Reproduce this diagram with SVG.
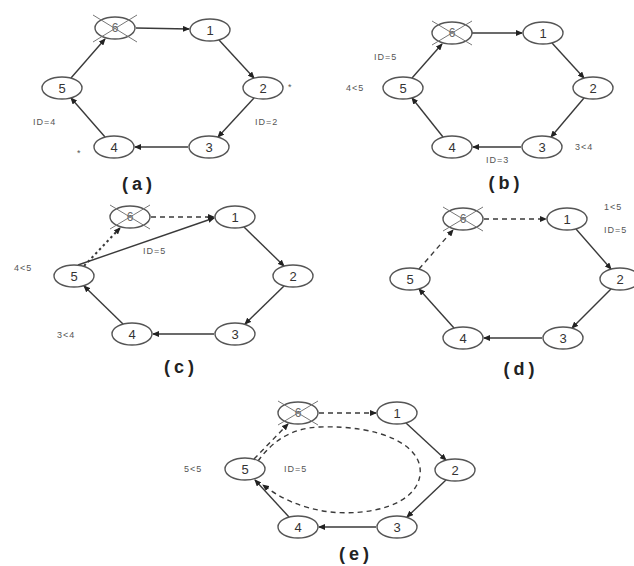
<svg xmlns="http://www.w3.org/2000/svg" width="634" height="566" viewBox="0 0 634 566">
<style>
.n ellipse{fill:#fff;stroke:#555;stroke-width:1.4}
.n text{font-family:"Liberation Sans",Arial,sans-serif;font-size:13px;fill:#333;text-anchor:middle}
.x text{fill:#666;font-size:12px}
.x line{stroke:#777;stroke-width:1}
.e{stroke:#3a3a3a;stroke-width:1.4;fill:none;marker-end:url(#ah)}
.d{stroke-dasharray:5,4}
.o{stroke-dasharray:2.5,3;stroke-width:2}
.l{font-family:"Liberation Sans",Arial,sans-serif;font-size:9px;fill:#555;letter-spacing:1px}
.c{font-family:"Liberation Sans",Arial,sans-serif;font-size:18px;font-weight:bold;fill:#222;text-anchor:middle;letter-spacing:4px}
</style>
<defs>
<marker id="ah" markerWidth="7" markerHeight="6" refX="6" refY="3" orient="auto" markerUnits="userSpaceOnUse">
<path d="M0,0 L7,3 L0,6 z" fill="#222"/>
</marker>
</defs>
<rect width="634" height="566" fill="#fff"/>

<!-- Panel a -->
<g id="connectors-a">
<line class="e" x1="136" y1="28" x2="189" y2="29"/>
<line class="e" x1="219" y1="40" x2="254" y2="78"/>
<line class="e" x1="254" y1="98" x2="218" y2="137"/>
<line class="e" x1="188" y1="147" x2="135" y2="147"/>
<line class="e" x1="105" y1="137" x2="71" y2="98"/>
<line class="e" x1="71" y1="78" x2="105" y2="39"/>
</g>
<g id="a-n6" class="n x"><ellipse cx="115" cy="28" rx="20" ry="11"/><text x="115" y="32">6</text><line x1="93" y1="15" x2="137" y2="42"/><line x1="93" y1="42" x2="137" y2="15"/></g>
<g id="a-n1" class="n"><ellipse cx="210" cy="30" rx="20" ry="11"/><text x="210" y="35">1</text></g>
<g id="a-n2" class="n"><ellipse cx="263" cy="88" rx="20" ry="11"/><text x="263" y="93">2</text></g>
<g id="a-n3" class="n"><ellipse cx="209" cy="147" rx="20" ry="11"/><text x="209" y="152">3</text></g>
<g id="a-n4" class="n"><ellipse cx="114" cy="147" rx="20" ry="11"/><text x="114" y="152">4</text></g>
<g id="a-n5" class="n"><ellipse cx="62" cy="88" rx="20" ry="11"/><text x="62" y="93">5</text></g>
<text class="l" x="288" y="90">*</text>
<text class="l" x="255" y="125">ID=2</text>
<text class="l" x="33" y="125">ID=4</text>
<text class="l" x="77" y="156">*</text>
<text class="c" x="139" y="190">(a)</text>

<!-- Panel b -->
<g id="connectors-b">
<line class="e" x1="472" y1="33" x2="522" y2="33"/>
<line class="e" x1="552" y1="43" x2="584" y2="78"/>
<line class="e" x1="584" y1="98" x2="551" y2="137"/>
<line class="e" x1="521" y1="147" x2="473" y2="147"/>
<line class="e" x1="443" y1="137" x2="412" y2="98"/>
<line class="e" x1="412" y1="78" x2="442" y2="44"/>
</g>
<g id="b-n6" class="n x"><ellipse cx="452" cy="33" rx="20" ry="11"/><text x="452" y="37">6</text><line x1="432" y1="21" x2="472" y2="45"/><line x1="432" y1="45" x2="472" y2="21"/></g>
<g id="b-n1" class="n"><ellipse cx="543" cy="33" rx="20" ry="11"/><text x="543" y="38">1</text></g>
<g id="b-n2" class="n"><ellipse cx="593" cy="88" rx="20" ry="11"/><text x="593" y="93">2</text></g>
<g id="b-n3" class="n"><ellipse cx="542" cy="147" rx="20" ry="11"/><text x="542" y="152">3</text></g>
<g id="b-n4" class="n"><ellipse cx="452" cy="147" rx="20" ry="11"/><text x="452" y="152">4</text></g>
<g id="b-n5" class="n"><ellipse cx="403" cy="88" rx="20" ry="11"/><text x="403" y="93">5</text></g>
<text class="l" x="374" y="60">ID=5</text>
<text class="l" x="346" y="91">4&lt;5</text>
<text class="l" x="575" y="150">3&lt;4</text>
<text class="l" x="486" y="163">ID=3</text>
<text class="c" x="506" y="189">(b)</text>

<!-- Panel c -->
<g id="connectors-c">
<line class="e d" x1="151" y1="217" x2="214" y2="217"/>
<line class="e" x1="78" y1="265" x2="214" y2="218"/>
<line class="e" x1="244" y1="227" x2="284" y2="266"/>
<line class="e" x1="284" y1="286" x2="245" y2="324"/>
<line class="e" x1="214" y1="334" x2="153" y2="334"/>
<line class="e" x1="123" y1="324" x2="84" y2="286"/>
<line class="e o" x1="84" y1="266" x2="120" y2="228"/>
</g>
<g id="c-n6" class="n x"><ellipse cx="130" cy="217" rx="20" ry="11"/><text x="130" y="221">6</text><line x1="110" y1="205" x2="150" y2="229"/><line x1="110" y1="229" x2="150" y2="205"/></g>
<g id="c-n1" class="n"><ellipse cx="235" cy="217" rx="20" ry="11"/><text x="235" y="222">1</text></g>
<g id="c-n2" class="n"><ellipse cx="293" cy="276" rx="20" ry="11"/><text x="293" y="281">2</text></g>
<g id="c-n3" class="n"><ellipse cx="235" cy="334" rx="20" ry="11"/><text x="235" y="339">3</text></g>
<g id="c-n4" class="n"><ellipse cx="132" cy="334" rx="20" ry="11"/><text x="132" y="339">4</text></g>
<g id="c-n5" class="n"><ellipse cx="74" cy="276" rx="20" ry="11"/><text x="74" y="281">5</text></g>
<text class="l" x="14" y="271">4&lt;5</text>
<text class="l" x="143" y="254">ID=5</text>
<text class="l" x="57" y="338">3&lt;4</text>
<text class="c" x="181" y="373">(c)</text>

<!-- Panel d -->
<g id="connectors-d">
<line class="e d" x1="484" y1="219" x2="546" y2="219"/>
<line class="e" x1="576" y1="229" x2="611" y2="269"/>
<line class="e" x1="611" y1="289" x2="572" y2="328"/>
<line class="e" x1="542" y1="338" x2="484" y2="338"/>
<line class="e" x1="454" y1="328" x2="419" y2="289"/>
<line class="e d" x1="419" y1="269" x2="453" y2="230"/>
</g>
<g id="d-n6" class="n x"><ellipse cx="463" cy="219" rx="20" ry="11"/><text x="463" y="223">6</text><line x1="443" y1="207" x2="483" y2="231"/><line x1="443" y1="231" x2="483" y2="207"/></g>
<g id="d-n1" class="n"><ellipse cx="567" cy="219" rx="20" ry="11"/><text x="567" y="224">1</text></g>
<g id="d-n2" class="n"><ellipse cx="620" cy="279" rx="20" ry="11"/><text x="620" y="284">2</text></g>
<g id="d-n3" class="n"><ellipse cx="563" cy="338" rx="20" ry="11"/><text x="563" y="343">3</text></g>
<g id="d-n4" class="n"><ellipse cx="463" cy="338" rx="20" ry="11"/><text x="463" y="343">4</text></g>
<g id="d-n5" class="n"><ellipse cx="410" cy="279" rx="20" ry="11"/><text x="410" y="284">5</text></g>
<text class="l" x="604" y="210">1&lt;5</text>
<text class="l" x="604" y="233">ID=5</text>
<text class="c" x="521" y="375">(d)</text>

<!-- Panel e -->
<g id="connectors-e">
<line class="e d" x1="319" y1="413" x2="376" y2="413"/>
<line class="e" x1="406" y1="423" x2="446" y2="460"/>
<line class="e" x1="446" y1="480" x2="407" y2="517"/>
<line class="e" x1="376" y1="527" x2="319" y2="527"/>
<line class="e" x1="289" y1="517" x2="255" y2="480"/>
<line class="e d" x1="254" y1="459" x2="288" y2="424"/>
<path class="e d" d="M258 461 C 272 442, 290 428, 320 427 C 380 425, 424 445, 420 475 C 416 505, 370 516, 330 512 C 300 508, 280 498, 263 485"/>
</g>
<g id="e-n6" class="n x"><ellipse cx="298" cy="413" rx="20" ry="11"/><text x="298" y="417">6</text><line x1="278" y1="401" x2="318" y2="425"/><line x1="278" y1="425" x2="318" y2="401"/></g>
<g id="e-n1" class="n"><ellipse cx="397" cy="413" rx="20" ry="11"/><text x="397" y="418">1</text></g>
<g id="e-n2" class="n"><ellipse cx="455" cy="470" rx="20" ry="11"/><text x="455" y="475">2</text></g>
<g id="e-n3" class="n"><ellipse cx="397" cy="527" rx="20" ry="11"/><text x="397" y="532">3</text></g>
<g id="e-n4" class="n"><ellipse cx="298" cy="527" rx="20" ry="11"/><text x="298" y="532">4</text></g>
<g id="e-n5" class="n"><ellipse cx="245" cy="469" rx="20" ry="11"/><text x="245" y="474">5</text></g>
<text class="l" x="184" y="472">5&lt;5</text>
<text class="l" x="284" y="472">ID=5</text>
<text class="c" x="356" y="560">(e)</text>
</svg>
